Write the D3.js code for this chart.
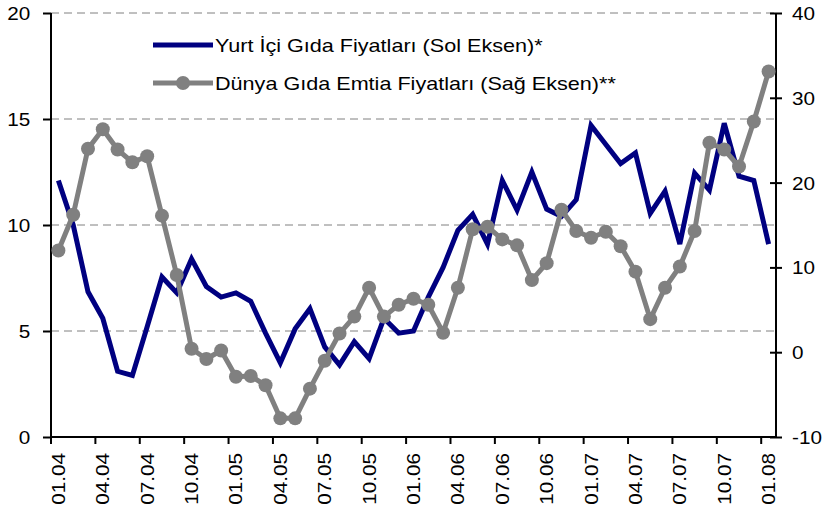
<!DOCTYPE html>
<html>
<head>
<meta charset="utf-8">
<script src="https://cdn.jsdelivr.net/npm/d3@7"></script>
<style>
body { margin: 0; background: #fff; }
svg { font-family: "Liberation Sans", Arial, sans-serif; }
</style>
</head>
<body>
<svg id="chart" width="826" height="514"></svg>
<script>
// months 01.04 .. 01.08
var months = [];
for (var yr = 4; yr <= 8; yr++) {
	for (var m = 1; m <= 12; m++) {
		if (yr == 8 && m > 1) break;
		months.push((m < 10 ? '0' + m : '' + m) + '.0' + yr);
	}
}

// Yurt İçi Gıda Fiyatları (left axis)
var domestic = [12.1, 10.0, 6.85, 5.6, 3.1, 2.9, 5.2, 7.55, 6.8, 8.4,
	7.1, 6.6, 6.8, 6.4, 4.9, 3.5, 5.1, 6.05, 4.25, 3.4,
	4.5, 3.7, 5.6, 4.9, 5.0, 6.6, 8.0, 9.75, 10.5, 9.1,
	12.1, 10.7, 12.5, 10.75, 10.4, 11.2, 14.7, 13.8, 12.9, 13.4,
	10.55, 11.6, 9.1, 12.45, 11.65, 14.8, 12.3, 12.1, 9.1];

// Dünya Gıda Emtia Fiyatları (right axis)
var world = [12.0, 16.2, 24.0, 26.3, 23.9, 22.4, 23.1, 16.1, 9.1, 0.4,
	-0.8, 0.2, -2.9, -2.8, -3.9, -7.8, -7.8, -4.3, -1.0, 2.2,
	4.2, 7.6, 4.2, 5.6, 6.3, 5.6, 2.3, 7.6, 14.5, 14.8,
	13.3, 12.6, 8.5, 10.5, 16.8, 14.3, 13.5, 14.2, 12.5, 9.5,
	3.9, 7.6, 10.1, 14.3, 24.7, 23.9, 21.9, 27.2, 33.1];

var leftTicks = [0, 5, 10, 15, 20];
var rightTicks = [-10, 0, 10, 20, 30, 40];
var seriesNames = ['Yurt İçi Gıda Fiyatları (Sol Eksen)*', 'Dünya Gıda Emtia Fiyatları (Sağ Eksen)**'];

var svg = d3.select('#chart');
var plotL = 51, plotR = 776, plotT = 13, plotB = 437;
var stretch = 1.15; // text in the original is a bit wider than Arial

var x = d3.scaleBand().domain(months).range([plotL, plotR]).padding(0);
var yL = d3.scaleLinear().domain([0, 20]).range([plotB, plotT]);
var yR = d3.scaleLinear().domain([-10, 40]).range([plotB, plotT]);

// gridlines
svg.append('g').selectAll('line')
	.data(leftTicks.filter(function(d){ return d > 0; }))
	.enter().append('line')
	.attr('x1', plotL).attr('x2', plotR)
	.attr('y1', function(d){ return yL(d); })
	.attr('y2', function(d){ return yL(d); })
	.attr('stroke', '#808080')
	.attr('stroke-width', 1)
	.attr('stroke-dasharray', '8,5');

// left axis
var axL = svg.append('g')
	.attr('transform', 'translate(' + plotL + ',0)')
	.call(d3.axisLeft(yL).tickValues(leftTicks).tickSize(8).tickFormat(''));
axL.selectAll('.tick').append('text')
	.attr('x', -18).attr('dy', '0.36em')
	.attr('text-anchor', 'end')
	.attr('transform', 'scale(' + stretch + ',1)')
	.text(function(d){ return d; });

// right axis
var axR = svg.append('g')
	.attr('transform', 'translate(' + plotR + ',0)')
	.call(d3.axisRight(yR).tickValues(rightTicks).tickSize(6).tickFormat(''));
axR.selectAll('.tick line').attr('x1', -6);
axR.selectAll('.tick').append('text')
	.attr('x', 14).attr('dy', '0.36em')
	.attr('text-anchor', 'start')
	.attr('transform', 'scale(' + stretch + ',1)')
	.text(function(d){ return d; });

[axL, axR].forEach(function(ax){
	ax.select('.domain').attr('stroke', '#000').attr('stroke-width', 2)
		.attr('d', 'M0,' + plotT + 'V' + plotB);
	ax.selectAll('.tick line').attr('stroke', '#000').attr('stroke-width', 2);
	ax.selectAll('.tick text')
		.attr('font-size', 18)
		.attr('fill', '#000')
		.attr('font-family', '"Liberation Sans", Arial, sans-serif');
});

// bottom axis: ticks at band boundaries every 3 months
var tickIdx = months.map(function(d, i){ return i; }).filter(function(i){ return i % 3 == 0; });
var axB = svg.append('g');
axB.append('line')
	.attr('x1', plotL - 1).attr('x2', plotR + 1)
	.attr('y1', plotB).attr('y2', plotB)
	.attr('stroke', '#000').attr('stroke-width', 2);
axB.selectAll('line.tk')
	.data(tickIdx)
	.enter().append('line')
	.attr('class', 'tk')
	.attr('x1', function(i){ return x(months[i]); })
	.attr('x2', function(i){ return x(months[i]); })
	.attr('y1', plotB).attr('y2', plotB + 7)
	.attr('stroke', '#000').attr('stroke-width', 2);
axB.selectAll('text')
	.data(tickIdx)
	.enter().append('text')
	.attr('transform', function(i){
		return 'translate(' + (x(months[i]) + x.bandwidth()/2 + 6.5) + ',' + (plotB + 16) + ') rotate(-90) scale(' + stretch + ',1)';
	})
	.attr('text-anchor', 'end')
	.attr('font-size', 18)
	.text(function(i){ return months[i]; });

var cx = function(d, i){ return x(months[i]) + x.bandwidth()/2; };

// domestic series (navy)
svg.append('path')
	.datum(domestic)
	.attr('fill', 'none')
	.attr('stroke', '#000080')
	.attr('stroke-width', 5)
	.attr('stroke-linejoin', 'miter')
	.attr('d', d3.line().x(cx).y(function(d){ return yL(d); }));

// world series (grey, markers) drawn on top
svg.append('path')
	.datum(world)
	.attr('fill', 'none')
	.attr('stroke', '#808080')
	.attr('stroke-width', 5)
	.attr('stroke-linejoin', 'round')
	.attr('d', d3.line().x(cx).y(function(d){ return yR(d); }));
svg.append('g').selectAll('circle')
	.data(world)
	.enter().append('circle')
	.attr('cx', cx)
	.attr('cy', function(d){ return yR(d); })
	.attr('r', 7)
	.attr('fill', '#808080');

// legend
var legend = svg.append('g');
legend.append('line')
	.attr('x1', 153).attr('x2', 213).attr('y1', 45).attr('y2', 45)
	.attr('stroke', '#000080').attr('stroke-width', 5);
legend.append('line')
	.attr('x1', 153).attr('x2', 213).attr('y1', 83).attr('y2', 83)
	.attr('stroke', '#808080').attr('stroke-width', 5);
legend.append('circle')
	.attr('cx', 183).attr('cy', 83).attr('r', 7).attr('fill', '#808080');
legend.selectAll('text')
	.data(seriesNames)
	.enter().append('text')
	.attr('transform', function(d, i){ return 'translate(215,' + (51.5 + i*38) + ') scale(1.2,1)'; })
	.attr('font-size', 18)
	.text(function(d){ return d; });
</script>
</body>
</html>
